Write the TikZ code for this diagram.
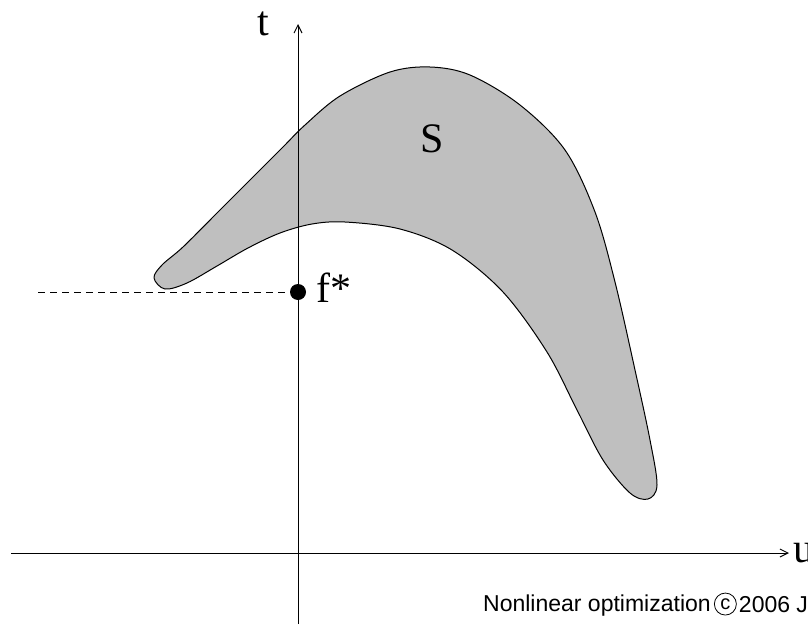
\documentclass[tikz,border=0pt]{standalone}
\usepackage{fontspec}
\setmainfont{Liberation Serif}
\setsansfont{Liberation Sans}
\usetikzlibrary{arrows.meta,positioning}
\tikzset{
  axis/.style={line width=1pt, draw=black, -{Straight Barb[length=8pt,width=8pt]}},
  region/.style={fill=black!25, draw=black, line width=1pt, line join=round},
  guide/.style={line width=0.9pt, draw=black, dash pattern=on 7pt off 5pt},
  optdot/.style={circle, fill=black, inner sep=0pt, minimum size=16pt},
  biglabel/.style={font=\fontsize{42}{42}\selectfont, inner sep=0pt, anchor=base},
  credit/.style={font=\sffamily\fontsize{23}{23}\selectfont, inner sep=0pt, anchor=base west},
}

\begin{document}
\begin{tikzpicture}[x=1pt,y=-1pt]
\useasboundingbox (0,0) rectangle (808,624);
% the set S
\draw[region] plot[smooth cycle, tension=0.55] coordinates {
  (154,278) (162,265) (183,247) (217,213) (250,180) (283,147) (305,125) (340,96)
  (390,72) (430,67) (470,75) (520,105) (565,150) (595,212) (615,282) (635,370)
  (650,440) (657,485) (648,499) (630,493) (603,460) (577,410) (547,352) (503,292)
  (452,250) (400,229) (345,222) (312,224) (280,233) (248,248) (217,266) (187,283)
  (165,289)};
% axes
\coordinate (tbot) at (298,624);
\coordinate (ttop) at (298,24);
\coordinate (uleft) at (11,553);
\coordinate (uright) at (789,553);
\draw[axis] (uleft) -- (uright);
\draw[axis] (tbot) -- (ttop);
% optimal value
\node[optdot] (fstar) at (298,292) {};
\coordinate (dashstart) at (38,292);
\draw[guide] (dashstart) -- (fstar.west);
\node[biglabel, anchor=base west] (fstarlabel) at (316,302) {f*};
\node[biglabel] (tlabel) at (263,35) {t};
\node[biglabel, anchor=base west] (ulabel) at (793,562) {u};
\node[biglabel] (slabel) at (432,152) {S};
% credit line
\node[credit] (credittext) at (483,611) {Nonlinear optimization};
\node[draw, circle, line width=0.8pt, minimum size=22pt, inner sep=0pt,
  font=\sffamily\fontsize{20}{20}\selectfont, right=3pt of credittext.east, yshift=1pt] (copyc) {c};
\node[credit, right=2pt of copyc.east, anchor=west, yshift=-1pt] (credityear) {2006 J};
\end{tikzpicture}
\end{document}
